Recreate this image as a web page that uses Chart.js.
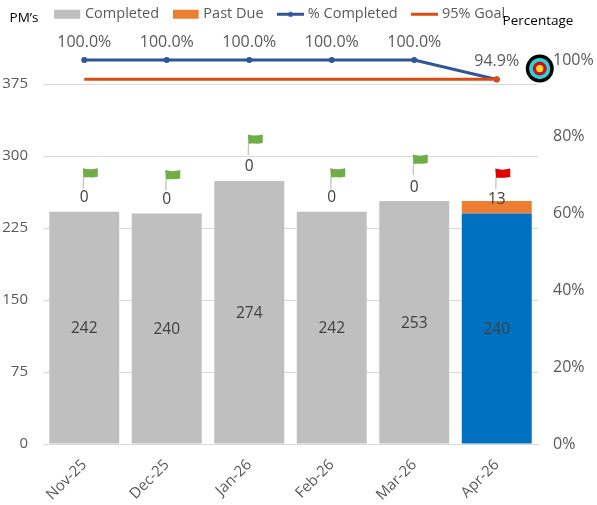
<!DOCTYPE html>
<html><head><meta charset="utf-8">
<style>html,body{margin:0;padding:0;background:#fff}#w{width:597px;height:505px}</style>
<script src="https://cdn.jsdelivr.net/npm/chart.js@4/dist/chart.umd.min.js"></script>
</head><body><div id="w"><canvas id="c" width="597" height="505"></canvas></div>
<script>
const categories = ['Nov-25','Dec-25','Jan-26','Feb-26','Mar-26','Apr-26'];
const completed = [242,240,274,242,253,240];
const pastDue = [0,0,0,0,0,13];
const pctCompleted = [100,100,100,100,100,94.9];
const goal = [95,95,95,95,95,95];
const pctLabels = ['100.0%','100.0%','100.0%','100.0%','100.0%','94.9%'];
const completedColors = ['#BFBFBF','#BFBFBF','#BFBFBF','#BFBFBF','#BFBFBF','#0070C0'];
const flagColors = ['#70AD47','#70AD47','#70AD47','#70AD47','#70AD47','#E00000'];
const pastDueLabelLift = [14,14,14,14,14,2];
const flagLift = [44,44,47,44,47,33];
const FONT = '"Open Sans","Noto Sans",sans-serif';
const TXT = '#595959';

function icon(kind,color){
  const k=document.createElement('canvas');k.width=27;k.height=11;const g=k.getContext('2d');
  if(kind==='bar'){g.fillStyle=color;g.fillRect(0,1,26,9);}
  else{g.fillStyle=color;g.fillRect(0,4,27,3);
    if(kind==='mark'){g.beginPath();g.arc(13.5,5.5,2.6,0,7);g.fill();}}
  return k;
}
const icons=[icon('bar','#BFBFBF'),icon('bar','#ED7D31'),icon('mark','#2F5597'),icon('line','#DF4A10')];

function flag(ctx,x,y,color){
  ctx.save();
  ctx.strokeStyle='#BFCDB5';ctx.lineWidth=1.4;
  ctx.beginPath();ctx.moveTo(x-1,y+21);ctx.lineTo(x-.5,y+1);ctx.stroke();
  ctx.fillStyle=color;ctx.beginPath();
  ctx.moveTo(x-1.5,y+.5);
  ctx.bezierCurveTo(x+3,y+2,x+8,y+2,x+13.5,y+.5);
  ctx.lineTo(x+13.5,y+9);
  ctx.bezierCurveTo(x+8,y+10.5,x+3,y+9,x-.5,y+10);
  ctx.closePath();ctx.fill();ctx.restore();
}
function target(ctx,x,y){
  ctx.save();
  [[15.5,'rgba(255,255,255,.9)'],[14,'#000'],[10.6,'#2FD3D3'],[7,'#C8102E'],[3.6,'#F5E11A']].forEach(([r,c])=>{
    ctx.fillStyle=c;ctx.beginPath();ctx.arc(x,y,r,0,Math.PI*2);ctx.fill();});
  ctx.restore();
}
const overlay={id:'overlay',
  beforeLayout(chart){
    const l=chart.legend;
    if(l&&!l._patched){
      const f=l.fit;l.fit=function(){f.call(this);this.height=70;};
      const d=l.draw;l.draw=function(){const c=this.ctx;c.save();c.translate(-17,0);d.apply(this,arguments);c.restore();};
      l._patched=true;
    }
  },
  afterDatasetsDraw(chart){
    const {ctx}=chart;
    const mC=chart.getDatasetMeta(0),mP=chart.getDatasetMeta(1),mL=chart.getDatasetMeta(2);
    ctx.save();ctx.textAlign='center';ctx.textBaseline='middle';
    categories.forEach((_,i)=>{
      const b=mC.data[i],t=mP.data[i];
      ctx.font='15.5px '+FONT;ctx.fillStyle='#404040';
      ctx.fillText(String(completed[i]),b.x,(b.y+b.base)/2+1);
      flag(ctx,b.x,t.y-flagLift[i],flagColors[i]);
      ctx.fillStyle='#404040';
      ctx.fillText(String(pastDue[i]),b.x,t.y-pastDueLabelLift[i]);
    });
    ctx.fillStyle=TXT;ctx.font='16px '+FONT;
    categories.forEach((_,i)=>{
      const p=mL.data[i];
      ctx.fillText(pctLabels[i],p.x,p.y-18);
    });
    const last=mL.data[5];
    target(ctx,last.x+43,last.y-11);
    ctx.fillStyle='#000';ctx.font='13.5px '+FONT;
    ctx.fillText('PM\u2019s',24,18);
    ctx.fillText('Percentage',538,21);
    ctx.restore();
  }
};
new Chart(document.getElementById('c'),{
  type:'bar',
  data:{labels:categories,datasets:[
    {label:'Completed',data:completed,backgroundColor:completedColors,stack:'s',yAxisID:'y',order:3,barPercentage:1,categoryPercentage:0.848},
    {label:'Past Due',data:pastDue,backgroundColor:'#ED7D31',stack:'s',yAxisID:'y',order:3,barPercentage:1,categoryPercentage:0.848},
    {label:'% Completed',type:'line',data:pctCompleted,borderColor:'#2F5597',backgroundColor:'#2F5597',borderWidth:3,pointRadius:3,pointStyle:'circle',pointBackgroundColor:'#2F5597',pointBorderWidth:0,yAxisID:'y1',order:1,tension:0,clip:8},
    {label:'95% Goal',type:'line',data:goal,borderColor:'#DF4A10',backgroundColor:'#DF4A10',borderWidth:3,pointRadius:[0,0,0,0,0,3],pointBackgroundColor:'#DF4A10',pointBorderWidth:0,yAxisID:'y1',order:0,tension:0,clip:8}
  ]},
  plugins:[overlay],
  options:{
    responsive:false,animation:false,devicePixelRatio:1,
    layout:{padding:{top:-10,right:0,left:0,bottom:0}},
    plugins:{
      tooltip:{enabled:false},
      legend:{display:true,position:'top',align:'center',
        labels:{usePointStyle:true,pointStyleWidth:20,boxHeight:11,padding:17,color:TXT,font:{family:FONT,size:14.5},
          generateLabels(chart){
            return Chart.defaults.plugins.legend.labels.generateLabels(chart)
              .sort((a,b)=>a.datasetIndex-b.datasetIndex)
              .map(it=>Object.assign(it,{pointStyle:icons[it.datasetIndex],fontColor:TXT}));
          }}}
    },
    scales:{
      x:{stacked:true,
        grid:{display:false,drawTicks:false},
        border:{display:true,color:'#D9D9D9',width:1},
        ticks:{color:TXT,font:{family:FONT,size:15},minRotation:45,maxRotation:45,padding:12,autoSkip:false},
        afterFit(s){s.height=61;}},
      y:{position:'left',stacked:true,min:0,max:400,
        grid:{color:'#D9D9D9',drawTicks:false},
        border:{display:false},
        ticks:{stepSize:75,includeBounds:false,color:TXT,padding:15,font:{family:FONT,size:15}},
        afterFit(s){s.width=43;}},
      y1:{position:'right',min:0,max:100,
        grid:{display:false,drawTicks:false},
        border:{display:false},
        ticks:{stepSize:20,color:TXT,padding:15,font:{family:FONT,size:16},callback:v=>v+'%'},
        afterFit(s){s.width=59;}}
    }
  }
});
</script></body></html>
